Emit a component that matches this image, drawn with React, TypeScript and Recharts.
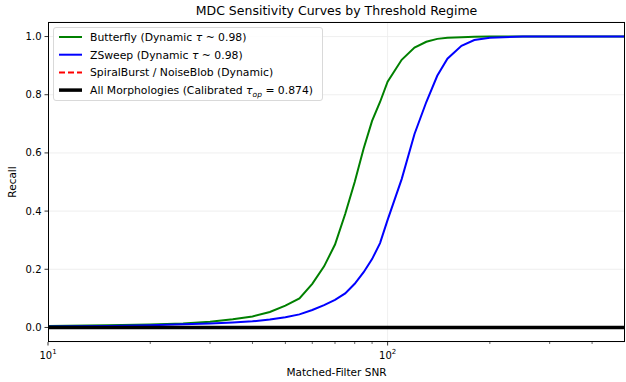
import React from "react";
import { LineChart, Line, XAxis, YAxis, CartesianGrid, ReferenceLine, Legend } from "recharts";

document.body.style.margin = "0";

const snr = [10, 15, 20, 25, 30, 35, 40, 45, 50, 55, 60, 65, 70, 75, 80, 85, 90, 95, 100, 110, 120, 130, 140, 150, 165, 180, 200, 250, 300, 400, 500];
const butterfly = [0.005, 0.008, 0.01, 0.014, 0.02, 0.028, 0.038, 0.053, 0.075, 0.1, 0.15, 0.21, 0.285, 0.39, 0.5, 0.615, 0.71, 0.775, 0.845, 0.92, 0.962, 0.982, 0.992, 0.996, 0.998, 0.999, 1.0, 1.0, 1.0, 1.0, 1.0];
const zsweep = [0.003, 0.005, 0.008, 0.011, 0.014, 0.017, 0.021, 0.027, 0.035, 0.045, 0.06, 0.077, 0.095, 0.117, 0.15, 0.19, 0.235, 0.29, 0.37, 0.51, 0.665, 0.775, 0.865, 0.924, 0.968, 0.988, 0.996, 1.0, 1.0, 1.0, 1.0];
const spiral = [0, 0, 0, 0, 0, 0, 0, 0, 0, 0, 0, 0, 0, 0, 0, 0, 0, 0, 0, 0, 0, 0, 0, 0, 0, 0, 0, 0, 0, 0, 0];
const allMorph = [0, 0, 0, 0, 0, 0, 0, 0, 0, 0, 0, 0, 0, 0, 0, 0, 0, 0, 0, 0, 0, 0, 0, 0, 0, 0, 0, 0, 0, 0, 0];

const majorTicks = [10, 100];
const minorTicks = [20, 30, 40, 50, 60, 70, 80, 90, 200, 300, 400];
const yTicks = [0, 0.2, 0.4, 0.6, 0.8, 1.0];

const data = snr.map((s, i) => ({
  snr: s,
  butterfly: butterfly[i],
  zsweep: zsweep[i],
  spiral: spiral[i],
  all: allMorph[i],
}));

const FONT = "DejaVu Sans, sans-serif";

const series = [
  { key: "butterfly", color: "#008000", width: 2, dash: undefined, label: <>Butterfly (Dynamic <tspan fontStyle="italic">τ</tspan> ~ 0.98)</> },
  { key: "zsweep", color: "#0000ff", width: 2, dash: undefined, label: <>ZSweep (Dynamic <tspan fontStyle="italic">τ</tspan> ~ 0.98)</> },
  { key: "spiral", color: "#ff0000", width: 2, dash: "6 3", label: <>SpiralBurst / NoiseBlob (Dynamic)</> },
  { key: "all", color: "#000000", width: 3.5, dash: undefined, label: <>All Morphologies (Calibrated <tspan fontStyle="italic">τ</tspan><tspan fontSize={7.5} fontStyle="italic" dy={3}>op</tspan><tspan dy={-3}> = 0.874)</tspan></> },
];

const XTick = (props: any) => {
  const { x, y, payload } = props;
  const major = majorTicks.includes(payload.value);
  const exp = Math.round(Math.log10(payload.value));
  return (
    <g>
      <line x1={x} x2={x} y1={y} y2={y + (major ? 3.5 : 2)} stroke="#000" strokeWidth={major ? 0.8 : 0.6} />
      {major && (
        <text x={x} y={y + 17} textAnchor="middle" fontSize={10} fill="#000" fontFamily={FONT}>
          10<tspan dy={-5} fontSize={7}>{exp}</tspan>
        </text>
      )}
    </g>
  );
};

const LegendBox = () => (
  <div style={{ width: 270, height: 74, border: "1px solid #d9d9d9", borderRadius: 3, background: "rgba(255,255,255,0.85)", boxSizing: "border-box" }}>
    <svg width={270} height={74}>
      {series.map((s, i) => (
        <g key={s.key}>
          <line x1={5} x2={28} y1={9 + i * 17.7} y2={9 + i * 17.7} stroke={s.color} strokeWidth={s.width} strokeDasharray={s.dash} />
          <text x={36} y={13 + i * 17.7} fontSize={10.8} fontFamily={FONT} fill="#000">{s.label}</text>
        </g>
      ))}
    </svg>
  </div>
);

export default function App() {
  return (
    <div style={{ position: "relative", width: 626, height: 382, background: "#fff", fontFamily: FONT }}>
      <div style={{ position: "absolute", left: 0, width: 673, top: 3, textAlign: "center", fontSize: 12.5, color: "#000" }}>
        MDC Sensitivity Curves by Threshold Regime
      </div>
      <LineChart width={626} height={382} data={data} margin={{ top: 22, right: 1, left: 0, bottom: 0 }}>
        <CartesianGrid vertical={false} stroke="#ebebeb" strokeWidth={0.8} />
        <ReferenceLine x={100} stroke="#ebebeb" strokeWidth={0.8} />
        <XAxis
          dataKey="snr"
          type="number"
          scale="log"
          domain={[10, 500]}
          allowDataOverflow
          ticks={[...majorTicks, ...minorTicks]}
          tick={<XTick />}
          tickLine={false}
          tickSize={0}
          tickMargin={0}
          axisLine={false}
          height={40}
          interval={0}
          label={{ value: "Matched-Filter SNR", position: "insideBottom", offset: 6, fontSize: 10.5, fill: "#000", fontFamily: FONT }}
        />
        <YAxis
          type="number"
          domain={[-0.05, 1.05]}
          ticks={yTicks}
          tickFormatter={(v: number) => v.toFixed(1)}
          width={48}
          axisLine={false}
          tickSize={3.5}
          tickMargin={3}
          tickLine={{ stroke: "#000", strokeWidth: 0.8 }}
          tick={{ fontSize: 10, fill: "#000", fontFamily: FONT }}
          interval={0}
          label={{ value: "Recall", angle: -90, position: "insideLeft", offset: 12, fontSize: 10.5, fill: "#000", fontFamily: FONT, style: { textAnchor: "middle" } }}
        />
        {series.map((s) => (
          <Line
            key={s.key}
            dataKey={s.key}
            stroke={s.color}
            strokeWidth={s.width}
            strokeDasharray={s.dash}
            dot={false}
            type="linear"
            isAnimationActive={false}
          />
        ))}
        <Legend content={<LegendBox />} layout="horizontal" verticalAlign="middle" align="center" wrapperStyle={{ left: 53, top: 27, width: 270 }} />
      </LineChart>
      <div style={{ position: "absolute", left: 48, top: 22, width: 577, height: 320, border: "1px solid #000", boxSizing: "border-box", pointerEvents: "none" }} />
    </div>
  );
}
